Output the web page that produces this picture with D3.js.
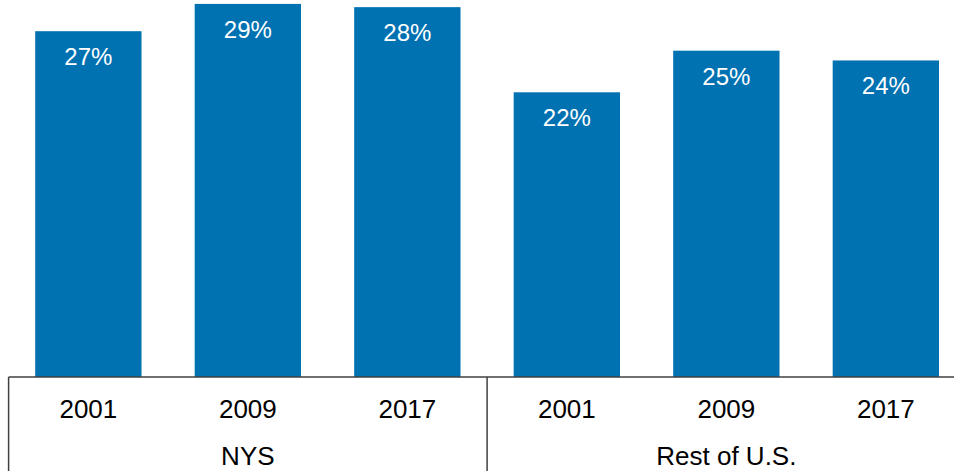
<!DOCTYPE html>
<html>
<head>
<meta charset="utf-8">
<script src="https://cdn.jsdelivr.net/npm/d3@7"></script>
<style>
  html, body { margin: 0; padding: 0; background: #fff; }
  svg { display: block; font-family: "Liberation Sans", Arial, sans-serif; }
</style>
</head>
<body>
<svg id="chart" width="954" height="471"></svg>
<script>
// Share by region and year
const groups = ["NYS", "Rest of U.S."];
const years = ["2001", "2009", "2017"];
const nysValues = [0.266, 0.287, 0.2845];
const restValues = [0.219, 0.251, 0.2435];

const rows = [];
groups.forEach((g, gi) => {
  const vals = gi === 0 ? nysValues : restValues;
  years.forEach((yr, i) => rows.push({ key: g + "|" + yr, group: g, year: yr, value: vals[i] }));
});

const svg = d3.select("#chart");
const baseY = 377;
const left = 8.6, right = 965.6;

const x = d3.scaleBand()
  .domain(rows.map(d => d.key))
  .range([left, right])
  .paddingInner(1 / 3)
  .paddingOuter(1 / 6);

const y = d3.scaleLinear().domain([0, 0.29]).range([baseY, 0]);
const fmt = d3.format(".0%");

// Bars
svg.append("g").selectAll("rect")
  .data(rows)
  .join("rect")
  .attr("x", d => x(d.key))
  .attr("y", d => y(d.value))
  .attr("width", x.bandwidth())
  .attr("height", d => baseY - y(d.value))
  .attr("fill", "#0071b1");

// Value labels inside bars
svg.append("g").selectAll("text")
  .data(rows)
  .join("text")
  .attr("x", d => x(d.key) + x.bandwidth() / 2)
  .attr("y", d => y(d.value) + 34)
  .attr("text-anchor", "middle")
  .attr("fill", "#ffffff")
  .attr("font-size", 24)
  .text(d => fmt(d.value));

// Category axis: baseline and group dividers
const axis = svg.append("g").attr("stroke", "#404040").attr("stroke-width", 1.5);
const groupStep = x.step() * years.length;
axis.append("line")
  .attr("x1", left).attr("x2", right)
  .attr("y1", baseY).attr("y2", baseY);
d3.range(groups.length + 1).forEach(i => {
  const gx = left + i * groupStep;
  axis.append("line")
    .attr("x1", gx).attr("x2", gx)
    .attr("y1", baseY).attr("y2", 471);
});

// Year tick labels
svg.append("g").selectAll("text")
  .data(rows)
  .join("text")
  .attr("x", d => x(d.key) + x.bandwidth() / 2)
  .attr("y", 418)
  .attr("text-anchor", "middle")
  .attr("fill", "#000")
  .attr("font-size", 26)
  .text(d => d.year);

// Group labels
svg.append("g").selectAll("text")
  .data(groups)
  .join("text")
  .attr("x", (d, i) => left + (i + 0.5) * groupStep)
  .attr("y", 465)
  .attr("text-anchor", "middle")
  .attr("fill", "#000")
  .attr("font-size", 26)
  .text(d => d);
</script>
</body>
</html>
